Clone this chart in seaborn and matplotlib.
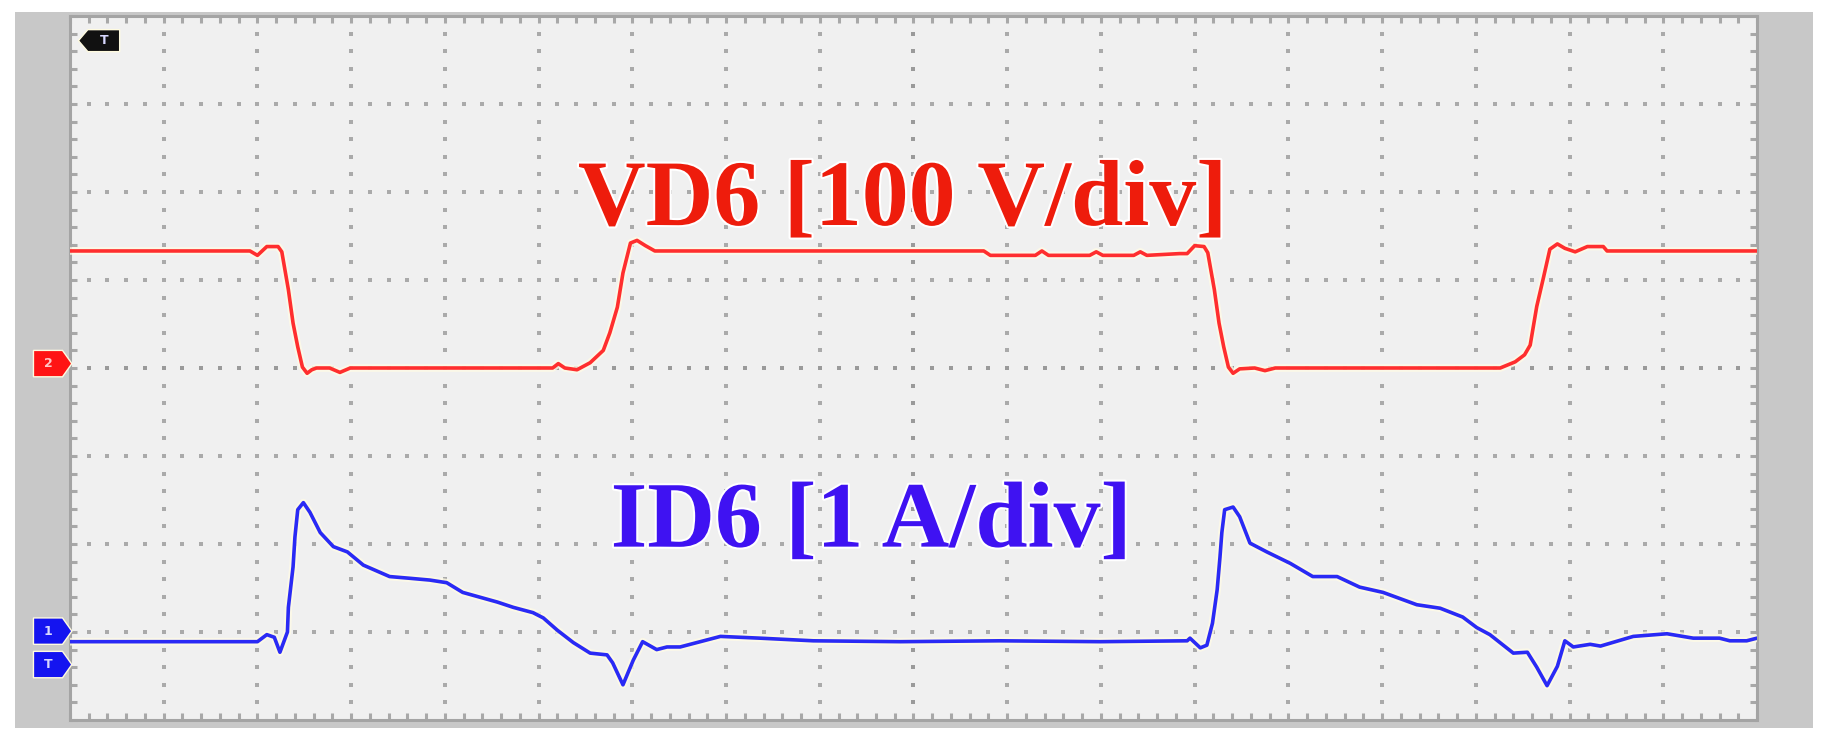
import numpy as np
import matplotlib
matplotlib.use("Agg")
import matplotlib.pyplot as plt
import matplotlib.patheffects as pe
from matplotlib.patches import Polygon, Rectangle
from matplotlib.ticker import MultipleLocator
import seaborn as sns

# scope traces, in divisions (18 x 8 screen)
red_x = [0, 1.71, 1.92, 2.0, 2.10, 2.22, 2.26, 2.33, 2.38, 2.43, 2.48, 2.53,
         2.58, 2.63, 2.77, 2.88, 2.99, 5.15, 5.21, 5.28, 5.41, 5.55, 5.69,
         5.76, 5.84, 5.90, 5.98, 6.05, 6.14, 6.24, 9.75, 9.82, 10.30, 10.37,
         10.44, 10.88, 10.95, 11.02, 11.35, 11.42, 11.49, 11.84, 11.92, 12.0,
         12.1, 12.14, 12.21, 12.26, 12.31, 12.36, 12.41, 12.48, 12.64, 12.75,
         12.86, 15.04, 15.26, 15.42, 15.52, 15.58, 15.65, 15.72, 15.79, 15.87,
         15.95, 16.06, 16.19, 16.36, 16.40, 18.0]
red_y = [5.33, 5.33, 5.33, 5.28, 5.38, 5.38, 5.32, 4.89, 4.51, 4.24, 4.01, 3.94,
         3.98, 4.0, 4.0, 3.95, 4.0, 4.0, 4.05, 4.0, 3.98, 4.06, 4.20,
         4.40, 4.69, 5.08, 5.42, 5.45, 5.39, 5.33, 5.33, 5.28, 5.28, 5.33,
         5.28, 5.28, 5.32, 5.28, 5.28, 5.32, 5.28, 5.30, 5.30, 5.39,
         5.38, 5.31, 4.89, 4.51, 4.24, 4.01, 3.94, 3.99, 4.0, 3.97,
         4.0, 4.0, 4.0, 4.07, 4.15, 4.26, 4.70, 5.02, 5.35, 5.41,
         5.36, 5.32, 5.38, 5.38, 5.33, 5.33]

blue_x = [0, 2.0, 2.10, 2.18, 2.24, 2.32, 2.33, 2.38, 2.40, 2.43, 2.49, 2.56,
          2.67, 2.81, 2.96, 3.13, 3.41, 3.63, 3.84, 4.02, 4.19, 4.56, 4.73,
          4.94, 5.05, 5.20, 5.37, 5.55, 5.73, 5.79, 5.90, 6.01, 6.11, 6.26,
          6.37, 6.51, 6.94, 7.36, 7.93, 8.86, 9.92, 10.99, 11.92, 11.95, 12.06,
          12.13, 12.19, 12.24, 12.27, 12.29, 12.32, 12.41, 12.48, 12.59, 12.77,
          13.02, 13.26, 13.52, 13.76, 14.01, 14.37, 14.62, 14.86, 15.01, 15.15,
          15.40, 15.55, 15.65, 15.76, 15.87, 15.95, 16.04, 16.22, 16.33, 16.68,
          17.04, 17.32, 17.60, 17.71, 17.89, 18.0]
blue_y = [0.89, 0.89, 0.97, 0.94, 0.77, 1.0, 1.28, 1.74, 2.08, 2.39, 2.47, 2.36,
          2.13, 1.97, 1.91, 1.76, 1.63, 1.61, 1.59, 1.56, 1.45, 1.34, 1.28,
          1.22, 1.16, 1.02, 0.88, 0.76, 0.74, 0.65, 0.40, 0.68, 0.89, 0.80,
          0.83, 0.83, 0.95, 0.93, 0.90, 0.89, 0.90, 0.89, 0.90, 0.93, 0.82,
          0.85, 1.10, 1.48, 1.85, 2.13, 2.39, 2.42, 2.31, 2.01, 1.91,
          1.78, 1.63, 1.63, 1.51, 1.45, 1.31, 1.27, 1.17, 1.05, 0.97,
          0.76, 0.77, 0.60, 0.39, 0.61, 0.90, 0.83, 0.86, 0.84, 0.95,
          0.98, 0.93, 0.93, 0.90, 0.90, 0.93]

red_label = "VD6 [100 V/div]"
blue_label = "ID6 [1 A/div]"
red_ref, blue_ref, trig_level = 4.05, 1.01, 0.63

n_xdiv, n_ydiv = 18, 8

sns.set_style("white")
plt.rcParams['font.family'] = ['Liberation Serif', 'DejaVu Serif']

fig = plt.figure(figsize=(18.21, 7.53), dpi=100, facecolor='white')
# grey bezel around the screen
fig.patches.append(Rectangle((15/1821, 1-728/753), 1798/1821, 716/753,
                             transform=fig.transFigure, facecolor='#c8c8c8',
                             edgecolor='none', zorder=-1))
ax = fig.add_axes([70/1821, 1-720/753, 1687/1821, 704/753])
ax.set_zorder(1)
ax.set_facecolor('#f0f0f0')
ax.set_xlim(0, n_xdiv)
ax.set_ylim(0, n_ydiv)

# dotted graticule
minor_x = np.arange(0.2, n_xdiv, 0.2)
minor_y = np.arange(0.2, n_ydiv, 0.2)
for gx in range(1, n_xdiv):
    big = gx == n_xdiv // 2
    ax.scatter(np.full(len(minor_y), gx), minor_y, marker='s',
               s=9 if big else 5.5, color='#9a9a9a' if big else '#aaaaaa',
               linewidths=0, zorder=1)
for gy in range(1, n_ydiv):
    big = gy == n_ydiv // 2
    ax.scatter(minor_x, np.full(len(minor_x), gy), marker='s',
               s=9 if big else 5.5, color='#9a9a9a' if big else '#aaaaaa',
               linewidths=0, zorder=1)

ax.xaxis.set_minor_locator(MultipleLocator(0.2))
ax.yaxis.set_minor_locator(MultipleLocator(0.2))
ax.xaxis.set_major_locator(MultipleLocator(1))
ax.yaxis.set_major_locator(MultipleLocator(1))
ax.tick_params(which='both', direction='in', top=True, right=True,
               bottom=True, left=True, labelbottom=False, labelleft=False,
               color='#a8a8a8', width=2.2, length=5)
for sp in ax.spines.values():
    sp.set_color('#a4a4a4')
    sp.set_linewidth(2.2)

halo = [pe.Stroke(linewidth=5.5, foreground='#fffbe6', alpha=0.8), pe.Normal()]
sns.lineplot(x=red_x, y=red_y, ax=ax, color='#ff2e2e', lw=2.6,
             sort=False, estimator=None, zorder=3)
ax.lines[-1].set_path_effects(halo)
sns.lineplot(x=blue_x, y=blue_y, ax=ax, color='#2a2af5', lw=2.6,
             sort=False, estimator=None, zorder=3)
ax.lines[-1].set_path_effects(halo)

txt_halo = [pe.withStroke(linewidth=3, foreground='#ffffff')]
ax.text(5.42, 5.625, red_label, color='#ee1c0c', fontsize=67.5,
        fontweight='bold', ha='left', va='baseline', zorder=4,
        path_effects=txt_halo)
ax.text(5.77, 1.97, blue_label, color='#3f12f2', fontsize=67.5,
        fontweight='bold', ha='left', va='baseline', zorder=4,
        path_effects=txt_halo)


def tag(yc, color, label, x0=-0.39, x1=0.02, h=0.15, left=False):
    tip = 0.1
    if left:
        pts = [(x0, yc), (x0 + tip, yc + h), (x1, yc + h), (x1, yc - h),
               (x0 + tip, yc - h)]
        cx = (x0 + tip + x1) / 2
    else:
        pts = [(x0, yc + h), (x1 - tip, yc + h), (x1, yc), (x1 - tip, yc - h),
               (x0, yc - h)]
        cx = (x0 + x1 - tip) / 2
    ax.add_patch(Polygon(pts, closed=True, facecolor=color, edgecolor='#fffbe0',
                         lw=1, clip_on=False, zorder=5))
    ax.text(cx, yc, label, color='#d8d8ff' if color != '#ff1414' else '#ffc8c8',
            fontsize=9, fontweight='bold', ha='center', va='center',
            family='DejaVu Sans', clip_on=False, zorder=6)


tag(red_ref, '#ff1414', '2')
tag(blue_ref, '#1414f0', '1')
tag(trig_level, '#1414f0', 'T')
tag(7.72, '#111111', 'T', x0=0.09, x1=0.53, h=0.125, left=True)

fig.savefig('out.png', dpi=100, facecolor='white')
